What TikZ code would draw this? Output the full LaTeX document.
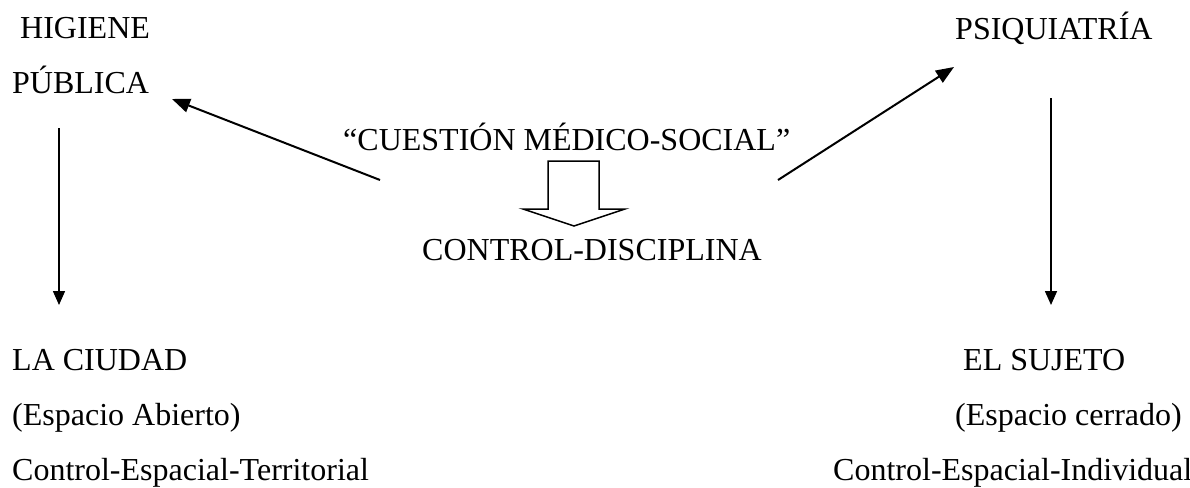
\documentclass[tikz,border=0pt]{standalone}
\usepackage{fontspec}
\setmainfont{Liberation Serif}
\usetikzlibrary{arrows.meta}
\begin{document}
\begin{tikzpicture}[x=1pt,y=-1pt,
  lbl/.style={anchor=base west,inner sep=0pt,font=\fontsize{32}{38}\selectfont},
  conn/.style={line width=2pt,-{Triangle[length=18pt,width=14pt]}},
  vconn/.style={line width=1.6pt,-{Triangle[length=14pt,width=12pt]}}]
\useasboundingbox (0,0) rectangle (1190,487);
% left column
\node[lbl] (hig) at (20,38) {HIGIENE};
\node[lbl] (pub) at (12,93) {PÚBLICA};
\node[lbl] (ciu) at (12,370) {LA CIUDAD};
\node[lbl] (abi) at (12,425) {(Espacio Abierto)};
\node[lbl] (ter) at (12,480) {Control-Espacial-Territorial};
% center
\node[lbl] (cue) at (343,150) {“CUESTIÓN MÉDICO-SOCIAL”};
\node[lbl] (dis) at (422,260) {CONTROL-DISCIPLINA};
% right column
\node[lbl] (psi) at (955,40) {PSIQUIATRÍA};
\node[lbl] (suj) at (963,370) {EL SUJETO};
\node[lbl] (cer) at (955,425) {(Espacio cerrado)};
\node[lbl] (ind) at (833,480) {Control-Espacial-Individual};
% connector endpoints
\coordinate (lt) at (380,180);
\coordinate (lh) at (172,99);
\coordinate (rt) at (778,180);
\coordinate (rh) at (954,67);
\coordinate (lv1) at (59,128);
\coordinate (lv2) at (59,305);
\coordinate (rv1) at (1051,98);
\coordinate (rv2) at (1051,305);
\draw[conn] (lt) -- (lh);
\draw[conn] (rt) -- (rh);
\draw[vconn] (lv1) -- (lv2);
\draw[vconn] (rv1) -- (rv2);
% block arrow
\draw[line width=1.5pt,line join=miter] (548,161) -- (599,161) -- (599,209) -- (625,209) -- (574,226) -- (523,209) -- (548,209) -- cycle;
\end{tikzpicture}
\end{document}
